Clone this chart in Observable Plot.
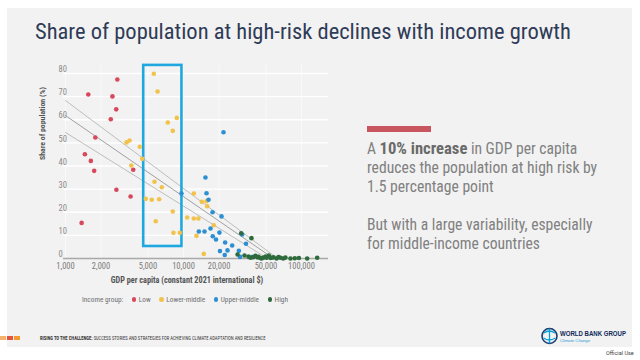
<!DOCTYPE html>
<html>
<head>
<meta charset="utf-8">
<script src="https://cdn.jsdelivr.net/npm/d3@7"></script>
<script src="https://cdn.jsdelivr.net/npm/@observablehq/plot@0.6"></script>
<style>
  body { margin:0; width:640px; height:360px; background:#fff; position:relative; overflow:hidden;
         font-family: "Liberation Sans Narrow", "Roboto Condensed", Roboto, sans-serif; }
  .abs { position:absolute; }
  #panel { left:7px; top:8px; width:625px; height:339px; background:#f2f2f2; }
  #title { left:35px; top:18px; font-size:22.5px; color:#2f3b57; white-space:nowrap; }
  #legend { left:82px; top:295px; font-size:7.3px; color:#6f6f6f; display:flex; align-items:center; white-space:nowrap; }
  #legend .dot { display:inline-block; width:4.6px; height:4.6px; border-radius:50%; margin:0 2.5px 0 0; }
  #legend .item { margin-left:8.5px; display:flex; align-items:center; }
  #bar { left:367px; top:126px; width:64px; height:6px; background:#c9555f; }
  #msg { left:367px; top:139px; font-size:15.6px; line-height:19px; color:#808080; white-space:nowrap; }
  #msg b { color:#6a6a6a; font-size:16.6px; }
  #foot { left:40px; top:335.5px; font-size:4.6px; color:#333; white-space:nowrap; }
  #logo { left:541px; top:327px; }
  #official { left:606px; top:350px; font-size:5.5px; color:#444; font-family: Roboto, sans-serif; }
</style>
</head>
<body>
<div id="panel" class="abs"></div>
<div id="title" class="abs">Share of population at high-risk declines with income growth</div>
<div id="chart" class="abs" style="left:0;top:0"></div>
<div id="legend" class="abs"></div>
<div id="bar" class="abs"></div>
<div id="msg" class="abs">A <b>10% increase</b> in GDP per capita<br>reduces the population at high risk by<br>1.5 percentage point<br><br>But with a large variability, especially<br>for middle-income countries</div>
<div class="abs" style="left:0;top:336px;width:6px;height:4px;background:#f5b26b"></div>
<div class="abs" style="left:7px;top:336px;width:6px;height:4px;background:#e5533d"></div>
<div class="abs" style="left:14px;top:336px;width:6px;height:4px;background:#f39a2e"></div>
<div id="foot" class="abs"><b>RISING TO THE CHALLENGE:</b> SUCCESS STORIES AND STRATEGIES FOR ACHIEVING CLIMATE ADAPTATION AND RESILIENCE</div>
<div id="logo" class="abs">
  <svg width="90" height="20" viewBox="0 0 90 20">
    <circle cx="8.5" cy="9" r="7.5" fill="none" stroke="#1a3a6e" stroke-width="1.6"/>
    <path d="M3,6 Q8,2 14,6 M2.5,11 Q8,15 14.5,11 M8.5,1.5 L8.5,16.5" stroke="#009fda" stroke-width="1.3" fill="none"/>
    <text x="19" y="9" font-family="Liberation Sans, Arial, sans-serif" font-weight="bold" font-size="6.6" textLength="66" lengthAdjust="spacingAndGlyphs" fill="#0f2a58">WORLD BANK GROUP</text>
    <text x="19" y="15" font-family="Liberation Sans, Arial, sans-serif" font-size="4.2" fill="#2a9ad6">Climate Change</text>
  </svg>
</div>
<div id="official" class="abs">Official Use</div>
<script>
// ---- data ----
const groups = ["Low", "Lower-middle", "Upper-middle", "High"];
const groupColors = ["#d8485c", "#f1c24c", "#2b8fd3", "#2e6b3c"];

const lowGdp = [2750, 1560, 2500, 2690, 2420, 1790, 1460, 1640, 1750, 2700, 1370, 3560, 3750];
const lowShare = [77.4, 70.9, 70.1, 64.5, 60.2, 52.3, 45.1, 42.2, 37.9, 29.7, 15.4, 26.8, 38.4];

const lowerMiddleGdp = [5600, 6030, 7360, 8780, 8110, 3290, 3490, 4260, 4470, 3610, 5680, 6550, 4790, 5380, 6220, 8110, 5820, 8220, 9300, 12230, 14290, 15660, 15880, 10750, 12230, 13390, 12880, 14850, 18060];
const lowerMiddleShare = [79.9, 72.2, 58.8, 60.8, 55.2, 50.2, 51.0, 48.3, 43.1, 40.2, 33.2, 30.8, 25.8, 25.4, 25.6, 20.3, 16.1, 11.1, 11.1, 28.1, 24.5, 24.8, 22.6, 17.7, 17.3, 17.3, 9.8, 2.0, 14.4];

const upperMiddleGdp = [21830, 15350, 15670, 16300, 17620, 21000, 13490, 15070, 16940, 17700, 18850, 20170, 22540, 25850, 23590, 20370, 22350, 31420, 33860, 29440, 30140, 38070, 9620];
const upperMiddleShare = [54.6, 35.0, 28.2, 25.4, 20.0, 18.2, 11.7, 11.7, 13.0, 9.6, 8.2, 11.2, 6.9, 5.6, 3.5, 3.2, 1.5, 10.4, 6.4, 3.3, 0.7, 0.6, 28.1];

const highGdp = [28710, 30830, 32880, 35550, 36960, 37670, 39170, 40730, 42360, 43200, 44930, 45820, 47650, 49550, 50530, 52850, 54570, 55650, 57870, 61430, 63860, 66410, 69950, 73060, 80680, 87750, 95100, 111700, 135800];
const highShare = [1.7, 10.9, 1.3, 0.8, 0.3, 8.8, 0.6, 1.2, 0.5, 0.7, 0.2, 0.0, 0.4, 0.8, 0.3, 1.3, 0.2, 0.3, 0.5, 0.0, 0.6, 0.3, 0.0, 0.4, 0.0, 0.1, 0.2, 0.0, 0.3];

// fitted line and band: start and end points
const fitNames = ["upper", "fit", "lower"];
const fitStartGdp = [1000, 1000, 1000];
const fitStartShare = [68.3, 61.8, 54.5];
const fitEndGdp = [62700, 58000, 51500];
const fitEndShare = [0, 0, 0];

// highlighted middle-income box
const boxGdp = [4600, 9700];
const boxShare = [5.2, 83.5];

const yTicks = [0, 10, 20, 30, 40, 50, 60, 70, 80];
const xTicks = [1000, 2000, 5000, 10000, 20000, 50000, 100000];
const xTitle = "GDP per capita (constant 2021 international $)";
const yTitle = "Share of population (%)";

// ---- build ----
const gdpLists = [lowGdp, lowerMiddleGdp, upperMiddleGdp, highGdp];
const shareLists = [lowShare, lowerMiddleShare, upperMiddleShare, highShare];
const points = [];
groups.forEach((g, i) => gdpLists[i].forEach((x, j) => points.push({group: g, gdp: x, share: shareLists[i][j]})));

const fitRows = [];
fitNames.forEach((n, i) => {
  fitRows.push({name: n, gdp: fitStartGdp[i], share: fitStartShare[i]});
  fitRows.push({name: n, gdp: fitEndGdp[i], share: fitEndShare[i]});
});

const font = '"Liberation Sans Narrow", "Roboto Condensed", Roboto, sans-serif';

const chart = Plot.plot({
  width: 340,
  height: 290,
  marginLeft: 63,
  marginRight: 12,
  marginTop: 61,
  marginBottom: 32,
  style: {background: "transparent", fontFamily: font, overflow: "visible"},
  x: {type: "log", domain: [1000, 100000], range: [65, 301], axis: null},
  y: {domain: [0, 80], range: [258, 73], axis: null},
  color: {domain: groups, range: groupColors},
  marks: [
    Plot.ruleX(xTicks, {x: d => d, y1: 0, y2: 83.5, stroke: "#ffffff", strokeOpacity: 0.7, strokeWidth: 0.8}),
    Plot.ruleY(yTicks.filter(d => d > 0), {y: d => d, stroke: "#ffffff", strokeWidth: 1.4}),
    Plot.ruleY([0], {y: d => d, stroke: "#a9a9a9", strokeWidth: 1.6}),
    Plot.text(yTicks, {y: d => d, text: d => String(d), frameAnchor: "left", textAnchor: "start", dx: -5, dy: -4, fill: "#8a8a8a", fontSize: 8.5}),
    Plot.text(xTicks, {x: d => d, text: d => d3.format(",")(d), frameAnchor: "bottom", dy: 10, fill: "#7a7a7a", fontSize: 8.5}),
    Plot.text([xTitle], {text: d => d, frameAnchor: "bottom", dy: 24, dx: -9, fill: "#555", fontSize: 8.2, fontWeight: "bold"}),
    Plot.text([yTitle], {text: d => d, frameAnchor: "left", rotate: -90, dx: -21, fill: "#555", fontSize: 7.8, fontWeight: "bold"}),
    Plot.line(fitRows, {x: "gdp", y: "share", z: "name", stroke: d => d.name === "fit" ? "#a0a0a0" : "#bdbdbd", strokeWidth: 1}),
    Plot.rect([0], {x1: () => boxGdp[0], x2: () => boxGdp[1], y1: () => boxShare[0], y2: () => boxShare[1], fill: "none", stroke: "#1fa8e0", strokeWidth: 2.6}),
    Plot.dot(points, {x: "gdp", y: "share", fill: "group", r: 2.3})
  ]
});
document.getElementById("chart").appendChild(chart);

// legend
const legend = document.getElementById("legend");
legend.innerHTML = '<span>Income group:</span>' + groups.map((g, i) =>
  `<span class="item"><span class="dot" style="background:${groupColors[i]}"></span>${g}</span>`).join("");
</script>
</body>
</html>
